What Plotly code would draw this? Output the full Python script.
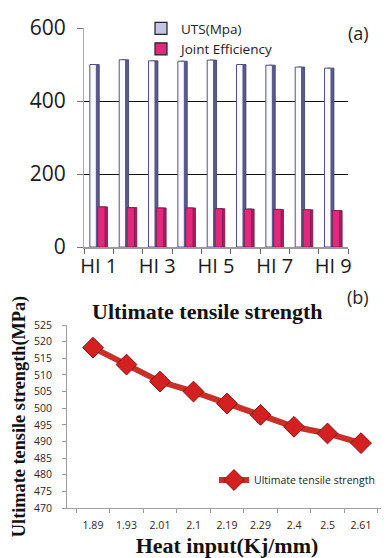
import plotly.graph_objects as go

# ---- data ----
hi_labels = ["HI 1", "HI 2", "HI 3", "HI 4", "HI 5", "HI 6", "HI 7", "HI 8", "HI 9"]
uts_bar = [500, 513, 510, 509, 512, 500, 498, 493, 490]
joint_eff = [110, 108, 107, 107, 105, 104, 103, 102, 100]

heat_input = ["1.89", "1.93", "2.01", "2.1", "2.19", "2.29", "2.4", "2.5", "2.61"]
uts_line = [518.2, 513.1, 508.0, 505.0, 501.4, 498.0, 494.4, 492.4, 489.5]

top_ticktext = [c if i % 2 == 0 else "" for i, c in enumerate(hi_labels)]

# page body has an 8px default margin; compensate
OFF = 8
H = 558.0 - OFF
W = 389.0 - OFF
def py(p):
    return 1 - (p - OFF) / H
def px_(x):
    return (x - OFF) / W

fig = go.Figure()

sans = "Open Sans"
serif = "Liberation Serif"

# UTS side (3D depth)
fig.add_trace(go.Bar(x=hi_labels, y=uts_bar, offset=-0.20, width=0.22,
                     marker=dict(color="#5a5a8e", line=dict(color="#3c3c66", width=0.8)),
                     showlegend=False, hoverinfo="skip", xaxis="x", yaxis="y3"))
# UTS front
fig.add_trace(go.Bar(x=hi_labels, y=uts_bar, offset=-0.30, width=0.22,
                     marker=dict(color="#fbfbff", line=dict(color="#50508a", width=1)),
                     showlegend=False, name="UTS(Mpa)", xaxis="x", yaxis="y3"))
# JE side
fig.add_trace(go.Bar(x=hi_labels, y=joint_eff, offset=0.05, width=0.25,
                     marker=dict(color="#a3225e", line=dict(color="#701640", width=0.8)),
                     showlegend=False, hoverinfo="skip", xaxis="x", yaxis="y3"))
# JE front
fig.add_trace(go.Bar(x=hi_labels, y=joint_eff, offset=-0.03, width=0.25,
                     marker=dict(color="#e3287d", line=dict(color="#7a1a48", width=0.8)),
                     showlegend=False, name="Joint Efficiency", xaxis="x", yaxis="y3"))
# legend entries
fig.add_trace(go.Bar(x=[None], y=[None], name="UTS(Mpa)",
                     marker=dict(color="#c4c4e4", line=dict(color="#222", width=1.2)),
                     xaxis="x", yaxis="y", legend="legend"))
fig.add_trace(go.Bar(x=[None], y=[None], name="Joint Efficiency",
                     marker=dict(color="#e3287d", line=dict(color="#222", width=1.2)),
                     xaxis="x", yaxis="y", legend="legend"))

# bottom line chart
fig.add_trace(go.Scatter(x=heat_input, y=uts_line, mode="lines+markers",
                         name="Ultimate tensile strength",
                         line=dict(color="#c8302a", width=6),
                         marker=dict(symbol="diamond", size=16, color="#d42020",
                                     line=dict(color="#8a1010", width=1)),
                         xaxis="x2", yaxis="y2", legend="legend2"))

fig.update_layout(
    width=int(W), height=int(H),
    margin=dict(l=0, r=0, t=0, b=0, autoexpand=False),
    paper_bgcolor="white", plot_bgcolor="rgba(0,0,0,0)",
    barmode="overlay",
    showlegend=True,
    xaxis=dict(domain=[px_(84), px_(348)], anchor="y", type="category",
               tickvals=hi_labels, ticktext=top_ticktext, tickson="boundaries",
               tickangle=0, automargin=False,
               ticks="outside", ticklen=5, tickcolor="#666",
               showline=True, linecolor="#9a9a9a", linewidth=2,
               showgrid=False,
               tickfont=dict(family=sans, size=20, color="#1a1a1a")),
    yaxis=dict(domain=[py(247), py(28)], anchor="x", range=[0, 600], automargin=False,
               tickvals=[0, 200, 400, 600], ticks="outside", ticklen=6, tickcolor="#777",
               ticklabelstandoff=7,
               showline=True, linecolor="#9ab0c0", linewidth=1,
               showgrid=False, zeroline=False,
               tickfont=dict(family=sans, size=21, color="#1a1a1a")),
    yaxis3=dict(domain=[py(247), py(28)], anchor="x", overlaying="y", range=[0, 600],
                tickvals=[200, 400], showticklabels=False, ticks="", automargin=False,
                showgrid=True, gridcolor="#111", gridwidth=1, zeroline=False,
                showline=False),
    xaxis2=dict(domain=[px_(67), px_(387)], anchor="y2", type="category", automargin=False,
                tickson="boundaries", ticks="outside", ticklen=4, tickcolor="#999",
                showline=True, linecolor="#a0a0a0", linewidth=1, showgrid=False,
                tickangle=0, ticklabelstandoff=7,
                tickfont=dict(family=sans, size=10.5, color="#2e2424"),
                title=dict(text="<b>Heat input(Kj/mm)</b>", standoff=7,
                           font=dict(family=serif, size=22, color="#111"))),
    yaxis2=dict(domain=[py(508), py(325)], anchor="x2", range=[470, 525], dtick=5,
                automargin=False,
                ticks="outside", ticklen=4, tickcolor="#999", ticklabelstandoff=8,
                showline=True, linecolor="#a0a0a0", linewidth=1,
                showgrid=False, zeroline=False,
                tickfont=dict(family=sans, size=10.5, color="#2e2424"),
                title=dict(text="<b>Ultimate tensile strength(MPa)</b>", standoff=3,
                           font=dict(family=serif, size=18.3, color="#111"))),
    legend=dict(x=px_(141), y=py(13), xanchor="left", yanchor="top",
                bgcolor="rgba(0,0,0,0)", tracegroupgap=0,
                itemwidth=30,
                font=dict(family=sans, size=13.5, color="#222")),
    legend2=dict(x=px_(214), y=py(480), xanchor="left", yanchor="middle",
                 bgcolor="rgba(0,0,0,0)",
                 font=dict(family=sans, size=10.5, color="#222")),
    annotations=[
        dict(text="(a)", x=px_(371), y=py(19), xref="paper", yref="paper",
             showarrow=False, font=dict(family=sans, size=18, color="#222")),
        dict(text="(b)", x=px_(371), y=py(297), xref="paper", yref="paper",
             showarrow=False, font=dict(family=sans, size=18, color="#222")),
        dict(text="<b>Ultimate tensile strength</b>", x=px_(207), y=py(311),
             xref="paper", yref="paper", showarrow=False,
             font=dict(family=serif, size=22, color="#111")),
    ],
)

fig.write_html("out.html")
